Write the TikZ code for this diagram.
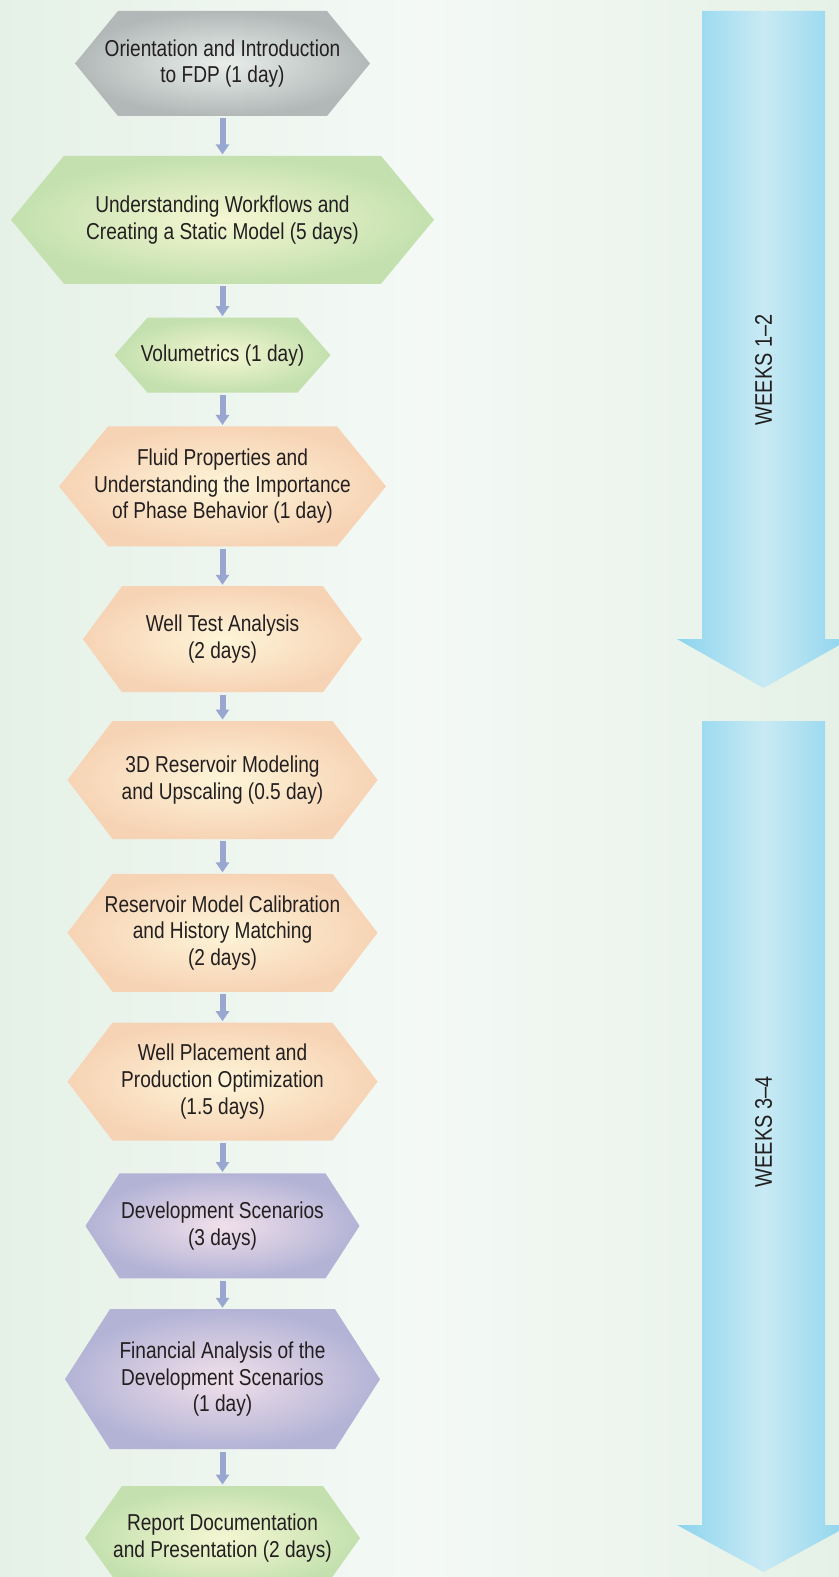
\documentclass[tikz,border=0pt]{standalone}
\usepackage{fontspec}
\newfontfamily\stagefont[FakeStretch=0.83]{Liberation Sans}
\usepackage{xcolor}
\usetikzlibrary{arrows.meta,positioning}
\definecolor{paperside}{HTML}{E5F1E6}
\definecolor{papermid}{HTML}{F4F9F6}
\definecolor{flowblue}{HTML}{98A6D0}
\definecolor{weekedge}{HTML}{8CD4EE}
\definecolor{weekmid}{HTML}{C9EAF4}
\definecolor{greyout}{HTML}{B1B8B7}
\definecolor{greyin}{HTML}{E9EEEB}
\definecolor{greenout}{HTML}{C3E0AE}
\definecolor{greenin}{HTML}{F5F7D2}
\definecolor{peachout}{HTML}{F7D3B5}
\definecolor{peachin}{HTML}{FEF5D8}
\definecolor{lilacout}{HTML}{B3B3D6}
\definecolor{lilacin}{HTML}{F1E0EA}
\definecolor{inktext}{HTML}{231F20}
\pgfdeclarelayer{paper}
\pgfdeclarelayer{background}
\pgfsetlayers{paper,background,main}
\tikzset{
	stage/.style={rectangle, inner sep=0pt, align=center, text=inktext, font=\stagefont\fontsize{11.5}{13.3}\selectfont},
	greyhex/.style={inner color=greyin, outer color=greyout},
	greenhex/.style={inner color=greenin, outer color=greenout},
	peachhex/.style={inner color=peachin, outer color=peachout},
	lilachex/.style={inner color=lilacin, outer color=lilacout},
	flow/.style={draw=flowblue, line width=3pt, -{Triangle[width=6.5pt,length=5pt]}, shorten <=1pt, shorten >=0.5pt},
	weekband/.style={left color=weekedge, right color=weekedge, middle color=weekmid},
	weeks/.style={rotate=90, text=inktext, font=\stagefont\fontsize{12}{14}\selectfont}
}
% hexagon behind a stage node: node, half width, half width to tip, half height, colours
\newcommand{\hexback}[5]{\shade[#5] ([xshift=-#2,yshift=#4]#1.center) -- ([xshift=#2,yshift=#4]#1.center) -- ([xshift=#3]#1.center) -- ([xshift=#2,yshift=-#4]#1.center) -- ([xshift=-#2,yshift=-#4]#1.center) -- ([xshift=-#3]#1.center) -- cycle;}

\begin{document}
\begin{tikzpicture}[x=0.5pt,y=-0.5pt]
	\useasboundingbox (0,0) rectangle (839,1577);

	\node[stage, minimum height=52.5pt] (orient) at (222.5,63.5) {Orientation and Introduction\\to FDP (1 day)};
	\node[stage, minimum height=64pt, below=19.5pt of orient] (workflow) {Understanding Workflows and\\Creating a Static Model (5 days)};
	\node[stage, minimum height=37.5pt, below=16.5pt of workflow] (volumetrics) {Volumetrics (1 day)};
	\node[stage, minimum height=60pt, below=16.5pt of volumetrics] (fluid) {Fluid Properties and\\Understanding the Importance\\of Phase Behavior (1 day)};
	\node[stage, minimum height=53pt, below=19.5pt of fluid] (welltest) {Well Test Analysis\\(2 days)};
	\node[stage, minimum height=59pt, below=14pt of welltest] (resmodel) {3D Reservoir Modeling\\and Upscaling (0.5 day)};
	\node[stage, minimum height=59pt, below=17pt of resmodel] (calib) {Reservoir Model Calibration\\and History Matching\\(2 days)};
	\node[stage, minimum height=59pt, below=15pt of calib] (placement) {Well Placement and\\Production Optimization\\(1.5 days)};
	\node[stage, minimum height=52.5pt, below=16pt of placement] (devscen) {Development Scenarios\\(3 days)};
	\node[stage, minimum height=70pt, below=15pt of devscen] (finance) {Financial Analysis of the\\Development Scenarios\\(1 day)};
	\node[stage, minimum height=52pt, below=18pt of finance] (report) {Report Documentation\\and Presentation (2 days)};

	\draw[flow] (orient) -- (workflow);
	\draw[flow] (workflow) -- (volumetrics);
	\draw[flow] (volumetrics) -- (fluid);
	\draw[flow] (fluid) -- (welltest);
	\draw[flow] (welltest) -- (resmodel);
	\draw[flow] (resmodel) -- (calib);
	\draw[flow] (calib) -- (placement);
	\draw[flow] (placement) -- (devscen);
	\draw[flow] (devscen) -- (finance);
	\draw[flow] (finance) -- (report);

	\begin{pgfonlayer}{background}
		\hexback{orient}{52.25pt}{73.75pt}{26.25pt}{greyhex}
		\hexback{workflow}{79.25pt}{105.75pt}{32pt}{greenhex}
		\hexback{volumetrics}{37.5pt}{54pt}{18.75pt}{greenhex}
		\hexback{fluid}{57.25pt}{81.75pt}{30pt}{peachhex}
		\hexback{welltest}{50.25pt}{69.75pt}{26.5pt}{peachhex}
		\hexback{resmodel}{55pt}{77.5pt}{29.5pt}{peachhex}
		\hexback{calib}{55pt}{77.5pt}{29.5pt}{peachhex}
		\hexback{placement}{55pt}{77.5pt}{29.5pt}{peachhex}
		\hexback{devscen}{51.5pt}{68.5pt}{26.25pt}{lilachex}
		\hexback{finance}{56.25pt}{78.75pt}{35pt}{lilachex}
		\hexback{report}{50.25pt}{68.75pt}{26pt}{greenhex}
	\end{pgfonlayer}

	\begin{pgfonlayer}{paper}
		\shade[left color=paperside, right color=paperside, middle color=papermid] (0,0) rectangle (839,1577);
		% week arrows
		\shade[weekband] (702,11) -- (825,11) -- (825,639) -- (850,639) -- (763.5,688) -- (677,639) -- (702,639) -- cycle;
		\shade[weekband] (702,721) -- (825,721) -- (825,1525) -- (850,1525) -- (763.5,1572) -- (677,1525) -- (702,1525) -- cycle;
	\end{pgfonlayer}

	\node[weeks] (weeksA) at (763.5,370) {WEEKS 1–2};
	\node[weeks] (weeksB) at (763.5,1132) {WEEKS 3–4};
\end{tikzpicture}
\end{document}
